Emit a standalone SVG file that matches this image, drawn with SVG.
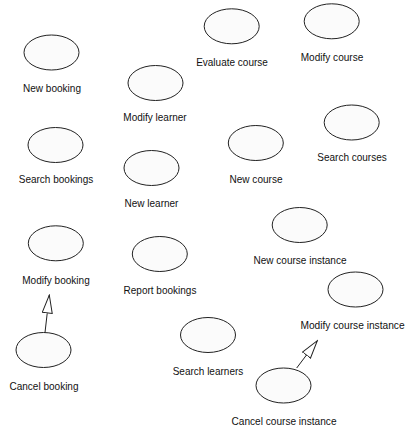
<svg xmlns="http://www.w3.org/2000/svg" width="407" height="432" viewBox="0 0 407 432">
<style>
.uc ellipse{fill:#fbfbfb;stroke:#222;stroke-width:1}
.uc text{font-family:"Liberation Sans",Arial,sans-serif;font-size:10.7px;fill:#111;text-anchor:middle}
.uc text.sm{font-size:10.2px}
.conn line{stroke:#222;stroke-width:1}
</style>
<defs>
<marker id="gen" markerUnits="userSpaceOnUse" markerWidth="20" markerHeight="13" refX="18.5" refY="5.5" orient="auto" viewBox="0 0 20 13">
<path d="M0.5,0.5 L18.5,5.5 L0.5,10.5 Z" fill="#fff" stroke="#222" stroke-width="1"/>
</marker>
</defs>
<rect width="407" height="432" fill="#fff"/>
<g class="uc" id="new-booking"><ellipse cx="51.5" cy="52.5" rx="27.5" ry="17.5"/><text x="52" y="92" textLength="58" lengthAdjust="spacingAndGlyphs">New booking</text></g>
<g class="uc" id="modify-learner"><ellipse cx="155.5" cy="83" rx="27.5" ry="17.5"/><text x="155" y="121" textLength="63.4" lengthAdjust="spacingAndGlyphs">Modify learner</text></g>
<g class="uc" id="search-bookings"><ellipse cx="55.5" cy="145" rx="27.5" ry="17.5"/><text x="56" y="183" textLength="74.5" lengthAdjust="spacingAndGlyphs">Search bookings</text></g>
<g class="uc" id="new-learner"><ellipse cx="151.5" cy="168" rx="27.5" ry="17.5"/><text x="151.5" y="207" textLength="53.9" lengthAdjust="spacingAndGlyphs">New learner</text></g>
<g class="uc" id="evaluate-course"><ellipse cx="231.7" cy="26.3" rx="27.5" ry="17.5"/><text x="232" y="65.5" textLength="71.7" lengthAdjust="spacingAndGlyphs">Evaluate course</text></g>
<g class="uc" id="modify-course"><ellipse cx="331.7" cy="21.3" rx="27.5" ry="17.5"/><text x="332" y="60.5" textLength="62.5" lengthAdjust="spacingAndGlyphs">Modify course</text></g>
<g class="uc" id="search-courses"><ellipse cx="351.7" cy="122.5" rx="27.5" ry="17.5"/><text x="352" y="161" textLength="69.5" lengthAdjust="spacingAndGlyphs">Search courses</text></g>
<g class="uc" id="new-course"><ellipse cx="255.8" cy="143" rx="27.5" ry="17.5"/><text x="256" y="183" textLength="53" lengthAdjust="spacingAndGlyphs">New course</text></g>
<g class="uc" id="modify-booking"><ellipse cx="55.8" cy="243.3" rx="27.5" ry="17.5"/><text x="56" y="284" textLength="67.5" lengthAdjust="spacingAndGlyphs">Modify booking</text></g>
<g class="uc" id="report-bookings"><ellipse cx="159.8" cy="254" rx="27.5" ry="17.5"/><text x="160" y="294" textLength="72.8" lengthAdjust="spacingAndGlyphs">Report bookings</text></g>
<g class="uc" id="cancel-booking"><ellipse cx="43.5" cy="350" rx="27.5" ry="17.5"/><text x="44" y="389.5" textLength="69" lengthAdjust="spacingAndGlyphs">Cancel booking</text></g>
<g class="uc" id="new-course-instance"><ellipse cx="299.7" cy="225" rx="27.5" ry="17.5"/><text x="300" y="264" textLength="93" lengthAdjust="spacingAndGlyphs">New course instance</text></g>
<g class="uc" id="modify-course-instance"><ellipse cx="355.5" cy="289.5" rx="27.5" ry="17.5"/><text class="sm" x="352.5" y="329">Modify course instance</text></g>
<g class="uc" id="search-learners"><ellipse cx="208" cy="335" rx="27.5" ry="17.5"/><text x="208" y="375" textLength="70.6" lengthAdjust="spacingAndGlyphs">Search learners</text></g>
<g class="uc" id="cancel-course-instance"><ellipse cx="283.5" cy="385.5" rx="27.5" ry="17.5"/><text x="284" y="424.5" textLength="105" lengthAdjust="spacingAndGlyphs">Cancel course instance</text></g>
<g class="conn" id="connectors">
<line x1="45" y1="332.5" x2="49.3" y2="295" marker-end="url(#gen)"/>
<line x1="296.7" y1="368" x2="317.3" y2="340.7" marker-end="url(#gen)"/>
</g>
</svg>
